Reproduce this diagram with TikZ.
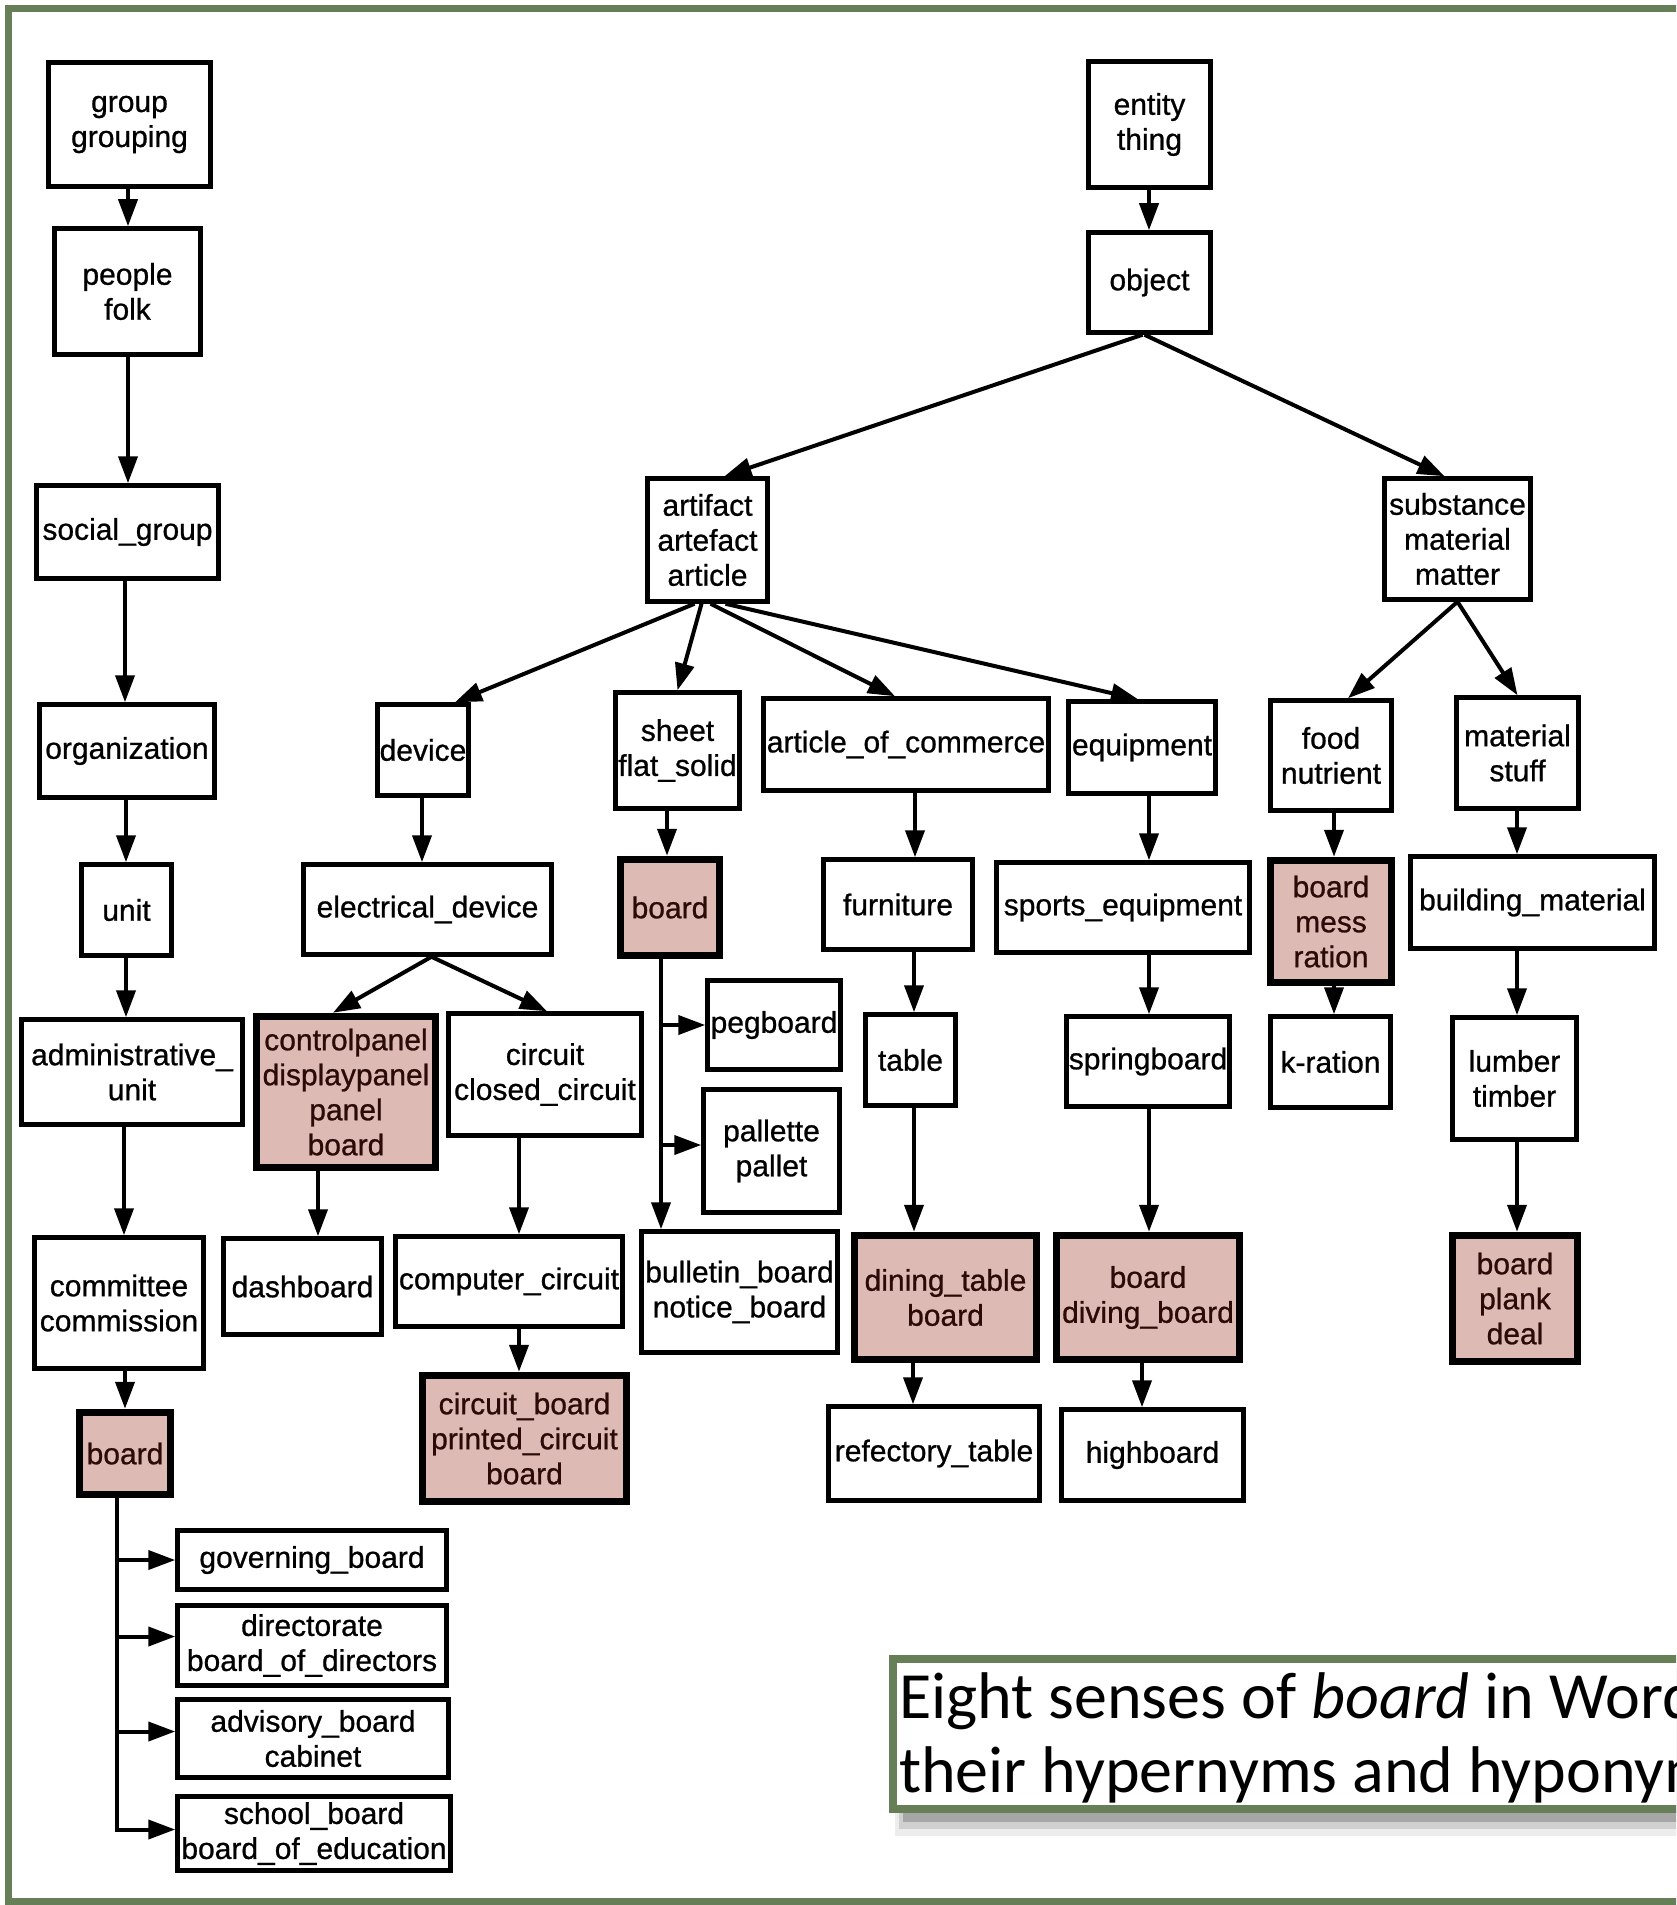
\documentclass[tikz,border=0pt]{standalone}
\usepackage{fontspec}
\setmainfont{Liberation Sans}
\newfontfamily\nodefont{Liberation Sans}[RawFeature={embolden=0.8}]
\newfontfamily\capfont{Carlito}
\usetikzlibrary{arrows.meta}
\definecolor{hlred}{HTML}{DEBAB4}
\definecolor{hltext}{HTML}{2B0B08}
\definecolor{frameg}{HTML}{667F57}
\newcommand\bx[7][]{%
 \pgfmathsetmacro\bxcx{(#3+#5)/2}%
 \pgfmathsetmacro\bxcy{(#4+#6)/2}%
 \pgfmathsetmacro\bxw{#5-#3-5}%
 \pgfmathsetmacro\bxh{#6-#4-5}%
 \node[box,#1,minimum width=\bxw pt,minimum height=\bxh pt] (#2) at (\bxcx,\bxcy) {#7};}
\newcommand\va[3]{\draw[arr] (#1.south -| #3,0) -- (#2.north -| #3,0);}
\begin{document}
\begin{tikzpicture}[x=1pt,y=-1pt,
  box/.style={draw, line width=4.5pt, inner sep=0pt, align=center, font=\nodefont\fontsize{30}{35}\selectfont},
  hl/.style={fill=hlred, line width=7.5pt, text=hltext},
  arr/.style={line width=4pt, -{Triangle[length=27pt,width=19pt]}}]
\useasboundingbox (0,0) rectangle (1676,1905);
\clip (0,0) rectangle (1676,1905);
\fill[white] (0,0) rectangle (1676,1905);
\draw[frameg, line width=7pt] (8,9) rectangle (1720,1901);
% left column
\bx{group}{46}{60}{213}{189}{group\\grouping}
\bx{people}{52}{226}{203}{357}{people\\folk}
\bx{social}{34}{483}{221}{581}{social\_group}
\bx{org}{37}{702}{217}{800}{organization}
\bx{unit}{79}{862}{174}{958}{unit}
\bx{admin}{19}{1017}{245}{1127}{administrative\_\\unit}
\bx{committee}{32}{1235}{206}{1371}{committee\\commission}
\bx[hl]{boardA}{77}{1410}{173}{1497}{board}
\bx{governing}{175}{1528}{449}{1592}{governing\_board}
\bx{directorate}{175}{1603}{449}{1688}{directorate\\board\_of\_directors}
\bx{advisory}{175}{1697}{451}{1780}{advisory\_board\\cabinet}
\bx{school}{175}{1794}{453}{1873}{school\_board\\board\_of\_education}
% right part
\bx{entity}{1086}{59}{1213}{190}{entity\\thing}
\bx{object}{1086}{230}{1213}{335}{object}
\bx{artifact}{645}{476}{770}{604}{artifact\\artefact\\article}
\bx{substance}{1382}{476}{1533}{602}{substance\\material\\matter}
\bx{device}{375}{702}{471}{798}{device}
\bx{sheet}{613}{690}{742}{811}{sheet\\flat\_solid}
\bx{article}{761}{696}{1051}{793}{article\_of\_commerce}
\bx{equipment}{1066}{699}{1218}{796}{equipment}
\bx{food}{1268}{698}{1394}{813}{food\\nutrient}
\bx{material}{1454}{695}{1581}{811}{material\\stuff}
\bx{electrical}{301}{862}{554}{957}{electrical\_device}
\bx[hl]{boardB}{618}{857}{722}{958}{board}
\bx{furniture}{821}{857}{975}{952}{furniture}
\bx{sports}{994}{860}{1252}{955}{sports\_equipment}
\bx[hl]{boardC}{1268}{858}{1394}{985}{board\\mess\\ration}
\bx{building}{1408}{854}{1657}{951}{building\_material}
\bx[hl]{panel}{254}{1014}{438}{1170}{controlpanel\\displaypanel\\panel\\board}
\bx{circuit}{446}{1011}{644}{1138}{circuit\\closed\_circuit}
\bx{pegboard}{705}{978}{843}{1072}{pegboard}
\bx{pallette}{701}{1087}{842}{1215}{pallette\\pallet}
\bx{table}{863}{1012}{958}{1108}{table}
\bx{springboard}{1064}{1014}{1232}{1109}{springboard}
\bx{kration}{1268}{1014}{1393}{1110}{k-ration}
\bx{lumber}{1450}{1015}{1579}{1142}{lumber\\timber}
\bx{dashboard}{221}{1236}{384}{1337}{dashboard}
\bx{computer}{393}{1234}{625}{1329}{computer\_circuit}
\bx{bulletin}{639}{1229}{840}{1355}{bulletin\_board\\notice\_board}
\bx[hl]{dining}{852}{1233}{1039}{1362}{dining\_table\\board}
\bx[hl]{diving}{1054}{1233}{1242}{1362}{board\\diving\_board}
\bx[hl]{plank}{1450}{1233}{1580}{1364}{board\\plank\\deal}
\bx[hl]{pcb}{420}{1373}{629}{1504}{circuit\_board\\printed\_circuit\\board}
\bx{refectory}{826}{1404}{1042}{1503}{refectory\_table}
\bx{highboard}{1059}{1407}{1246}{1503}{highboard}
% vertical arrows
\va{group}{people}{128}
\va{people}{social}{128}
\va{social}{org}{125}
\va{org}{unit}{126}
\va{unit}{admin}{126}
\va{admin}{committee}{124}
\va{committee}{boardA}{125}
\va{entity}{object}{1149}
\va{device}{electrical}{422}
\va{panel}{dashboard}{318}
\va{circuit}{computer}{519}
\va{computer}{pcb}{519}
\va{sheet}{boardB}{667}
\va{article}{furniture}{915}
\va{furniture}{table}{914}
\va{table}{dining}{914}
\va{dining}{refectory}{913}
\va{equipment}{sports}{1149}
\va{sports}{springboard}{1149}
\va{springboard}{diving}{1149}
\va{diving}{highboard}{1142}
\va{food}{boardC}{1334}
\va{boardC}{kration}{1334}
\va{material}{building}{1517}
\va{building}{lumber}{1517}
\va{lumber}{plank}{1517}
% diagonal arrows
\draw[arr] ([xshift=-7pt]object.south) -- ([xshift=17pt]artifact.north);
\draw[arr] ([xshift=-5pt]object.south) -- ([xshift=-13pt]substance.north);
\draw[arr] ([xshift=-13pt]artifact.south) -- ([xshift=32pt]device.north);
\draw[arr] ([xshift=-6pt]artifact.south) -- (sheet.north);
\draw[arr] ([xshift=3pt]artifact.south) -- ([xshift=-11pt]article.north);
\draw[arr] ([xshift=18pt]artifact.south) -- ([xshift=-4pt]equipment.north);
\draw[arr] (substance.south) -- ([xshift=17pt]food.north);
\draw[arr] (substance.south) -- (material.north);
\draw[arr] ([xshift=4pt]electrical.south) -- ([xshift=-13pt]panel.north);
\draw[arr] ([xshift=4pt]electrical.south) -- ([xshift=2pt]circuit.north);
% branch trees
\coordinate (trunkA) at (117,1500);
\path ([yshift=9pt]directorate.west) coordinate (dirIn);
\path ([yshift=7pt]advisory.west) coordinate (advIn);
\path ([yshift=4pt]school.west) coordinate (schIn);
\draw[arr] (boardA.south -| trunkA) |- (schIn);
\draw[arr] (governing.west -| trunkA) -- (governing.west);
\draw[arr] (dirIn -| trunkA) -- (dirIn);
\draw[arr] (advIn -| trunkA) -- (advIn);
\coordinate (trunkB) at (661,1000);
\path ([yshift=6pt]pallette.west) coordinate (palIn);
\draw[arr] (boardB.south -| trunkB) -- (bulletin.north -| trunkB);
\draw[arr] (pegboard.west -| trunkB) -- (pegboard.west);
\draw[arr] (palIn -| trunkB) -- (palIn);
% caption
\fill[black,opacity=.07] (895,1662) rectangle (1700,1836);
\fill[black,opacity=.12] (899,1665) rectangle (1700,1829);
\fill[black,opacity=.2] (903,1668) rectangle (1700,1822);
\draw[frameg, line width=8pt, fill=white] (893,1659) rectangle (1720,1809);
\node[anchor=base west, inner sep=0pt, font=\capfont\fontsize{66}{74}\selectfont] (cap1) at (899,1718) {Eight senses of \textit{board} in WordNet,};
\node[anchor=base west, inner sep=0pt, font=\capfont\fontsize{66}{74}\selectfont] (cap2) at (899,1792) {their hypernyms and hyponyms};
\end{tikzpicture}
\end{document}
